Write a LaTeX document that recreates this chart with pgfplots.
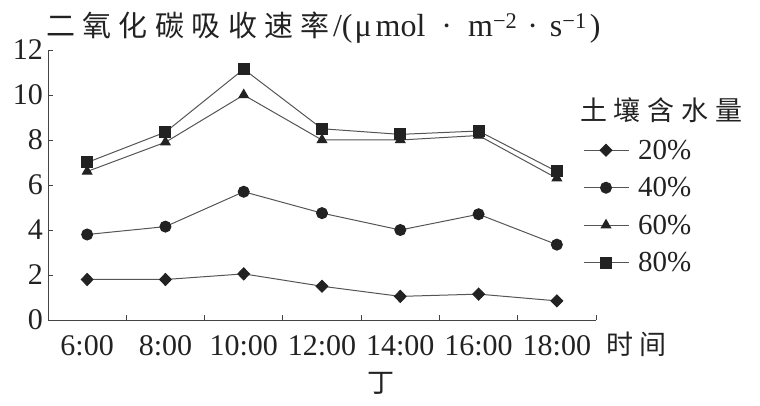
\documentclass[border=0pt]{standalone}
\usepackage{pgfplots}
\pgfplotsset{compat=1.18}
\usepackage{fontspec}
\setmainfont{Liberation Serif}
\newfontfamily\cjk{Noto Sans CJK SC}
\newfontfamily\cjkt{Noto Sans CJK SC}[LetterSpace=25]
\definecolor{ln}{HTML}{555555}
\definecolor{mk}{HTML}{222222}
\definecolor{ax}{HTML}{444444}
\newcommand\csp{\hspace{7.4bp}}
\begin{document}
\begin{tikzpicture}
\useasboundingbox (0,0) rectangle (760bp,406bp);
\begin{axis}[
  at={(48bp,86bp)}, anchor=south west,
  scale only axis, width=548bp, height=270bp,
  xmin=-0.5, xmax=6.5, ymin=0, ymax=12,
  axis x line=bottom, axis y line=left,
  axis line style={-, ax, line width=0.9bp},
  xtick={0,...,6},
  xticklabels={6:00,8:00,10:00,12:00,14:00,16:00,18:00},
  minor xtick={-0.5,0.5,...,6.5},
  major x tick style={draw=none},
  ytick={0,2,...,12},
  tick align=inside,
  major tick length=5bp, minor tick length=5bp,
  tick style={ax, line width=0.9bp},
  ticklabel style={font=\fontsize{30bp}{36bp}\selectfont, text=mk},
  /pgf/number format/assume math mode=true,
  yticklabel style={inner sep=0pt, xshift=-5bp},
  xticklabel style={inner sep=0pt, yshift=-15bp},
  legend cell align=left,
  legend style={draw=none, fill=none, inner sep=0pt, outer sep=0pt,
    at={(axis description cs:0.9763,0.7019)}, anchor=north west,
    font=\fontsize{29bp}{35bp}\selectfont, text=mk, row sep=0pt,
    /tikz/every odd column/.append style={column sep=9bp},
    nodes={inner sep=0pt, text height=29bp, text depth=8.5bp}},
  legend image code/.code={\draw[mark repeat=2,mark phase=2,#1] plot coordinates {(0bp,-1bp)(22.5bp,-1bp)(45bp,-1bp)};},
]
\addplot[ln, line width=1bp, mark=diamond*, mark size=6bp, mark options={draw=mk, fill=mk, xscale=1.3}]
  coordinates {(0,1.8)(1,1.8)(2,2.05)(3,1.5)(4,1.05)(5,1.15)(6,0.85)};
\addlegendentry{20\%}
\addplot[ln, line width=1bp, mark=*, mark size=5.5bp, mark options={draw=mk, fill=mk}]
  coordinates {(0,3.8)(1,4.15)(2,5.7)(3,4.75)(4,4.0)(5,4.7)(6,3.35)};
\addlegendentry{40\%}
\addplot[ln, line width=1bp, mark=triangle*, mark size=5.5bp, mark options={draw=mk, fill=mk}]
  coordinates {(0,6.6)(1,7.9)(2,10.0)(3,8.0)(4,8.0)(5,8.2)(6,6.3)};
\addlegendentry{60\%}
\addplot[ln, line width=1bp, mark=square*, mark size=5.5bp, mark options={draw=mk, fill=mk}]
  coordinates {(0,7.0)(1,8.35)(2,11.15)(3,8.5)(4,8.25)(5,8.4)(6,6.6)};
\addlegendentry{80\%}
\end{axis}
\node[anchor=base west, inner sep=0pt, text=mk] at (46bp,369bp)
  {{\cjk\fontsize{29bp}{34bp}\selectfont 二\csp 氧\csp 化\csp 碳\csp 吸\csp 收\csp 速\csp 率\hspace{3bp}}\fontsize{32bp}{38bp}\selectfont /(\hspace{2bp}μ\hspace{4bp}mol\hspace{16bp}·\hspace{16bp}m\textsuperscript{−2}\hspace{10bp}·\hspace{12bp}s\textsuperscript{−1}\hspace{3bp})};
\node[anchor=west, inner sep=0pt, text=mk] at (606bp,62bp) {\cjkt\fontsize{27bp}{30bp}\selectfont 时间};
\node[inner sep=0pt, text=mk] at (381bp,23bp) {\cjk\fontsize{27bp}{30bp}\selectfont 丁};
\node[anchor=west, inner sep=0pt, text=mk] at (580bp,296bp) {\cjkt\fontsize{27bp}{30bp}\selectfont 土壤含水量};
\end{tikzpicture}
\end{document}
